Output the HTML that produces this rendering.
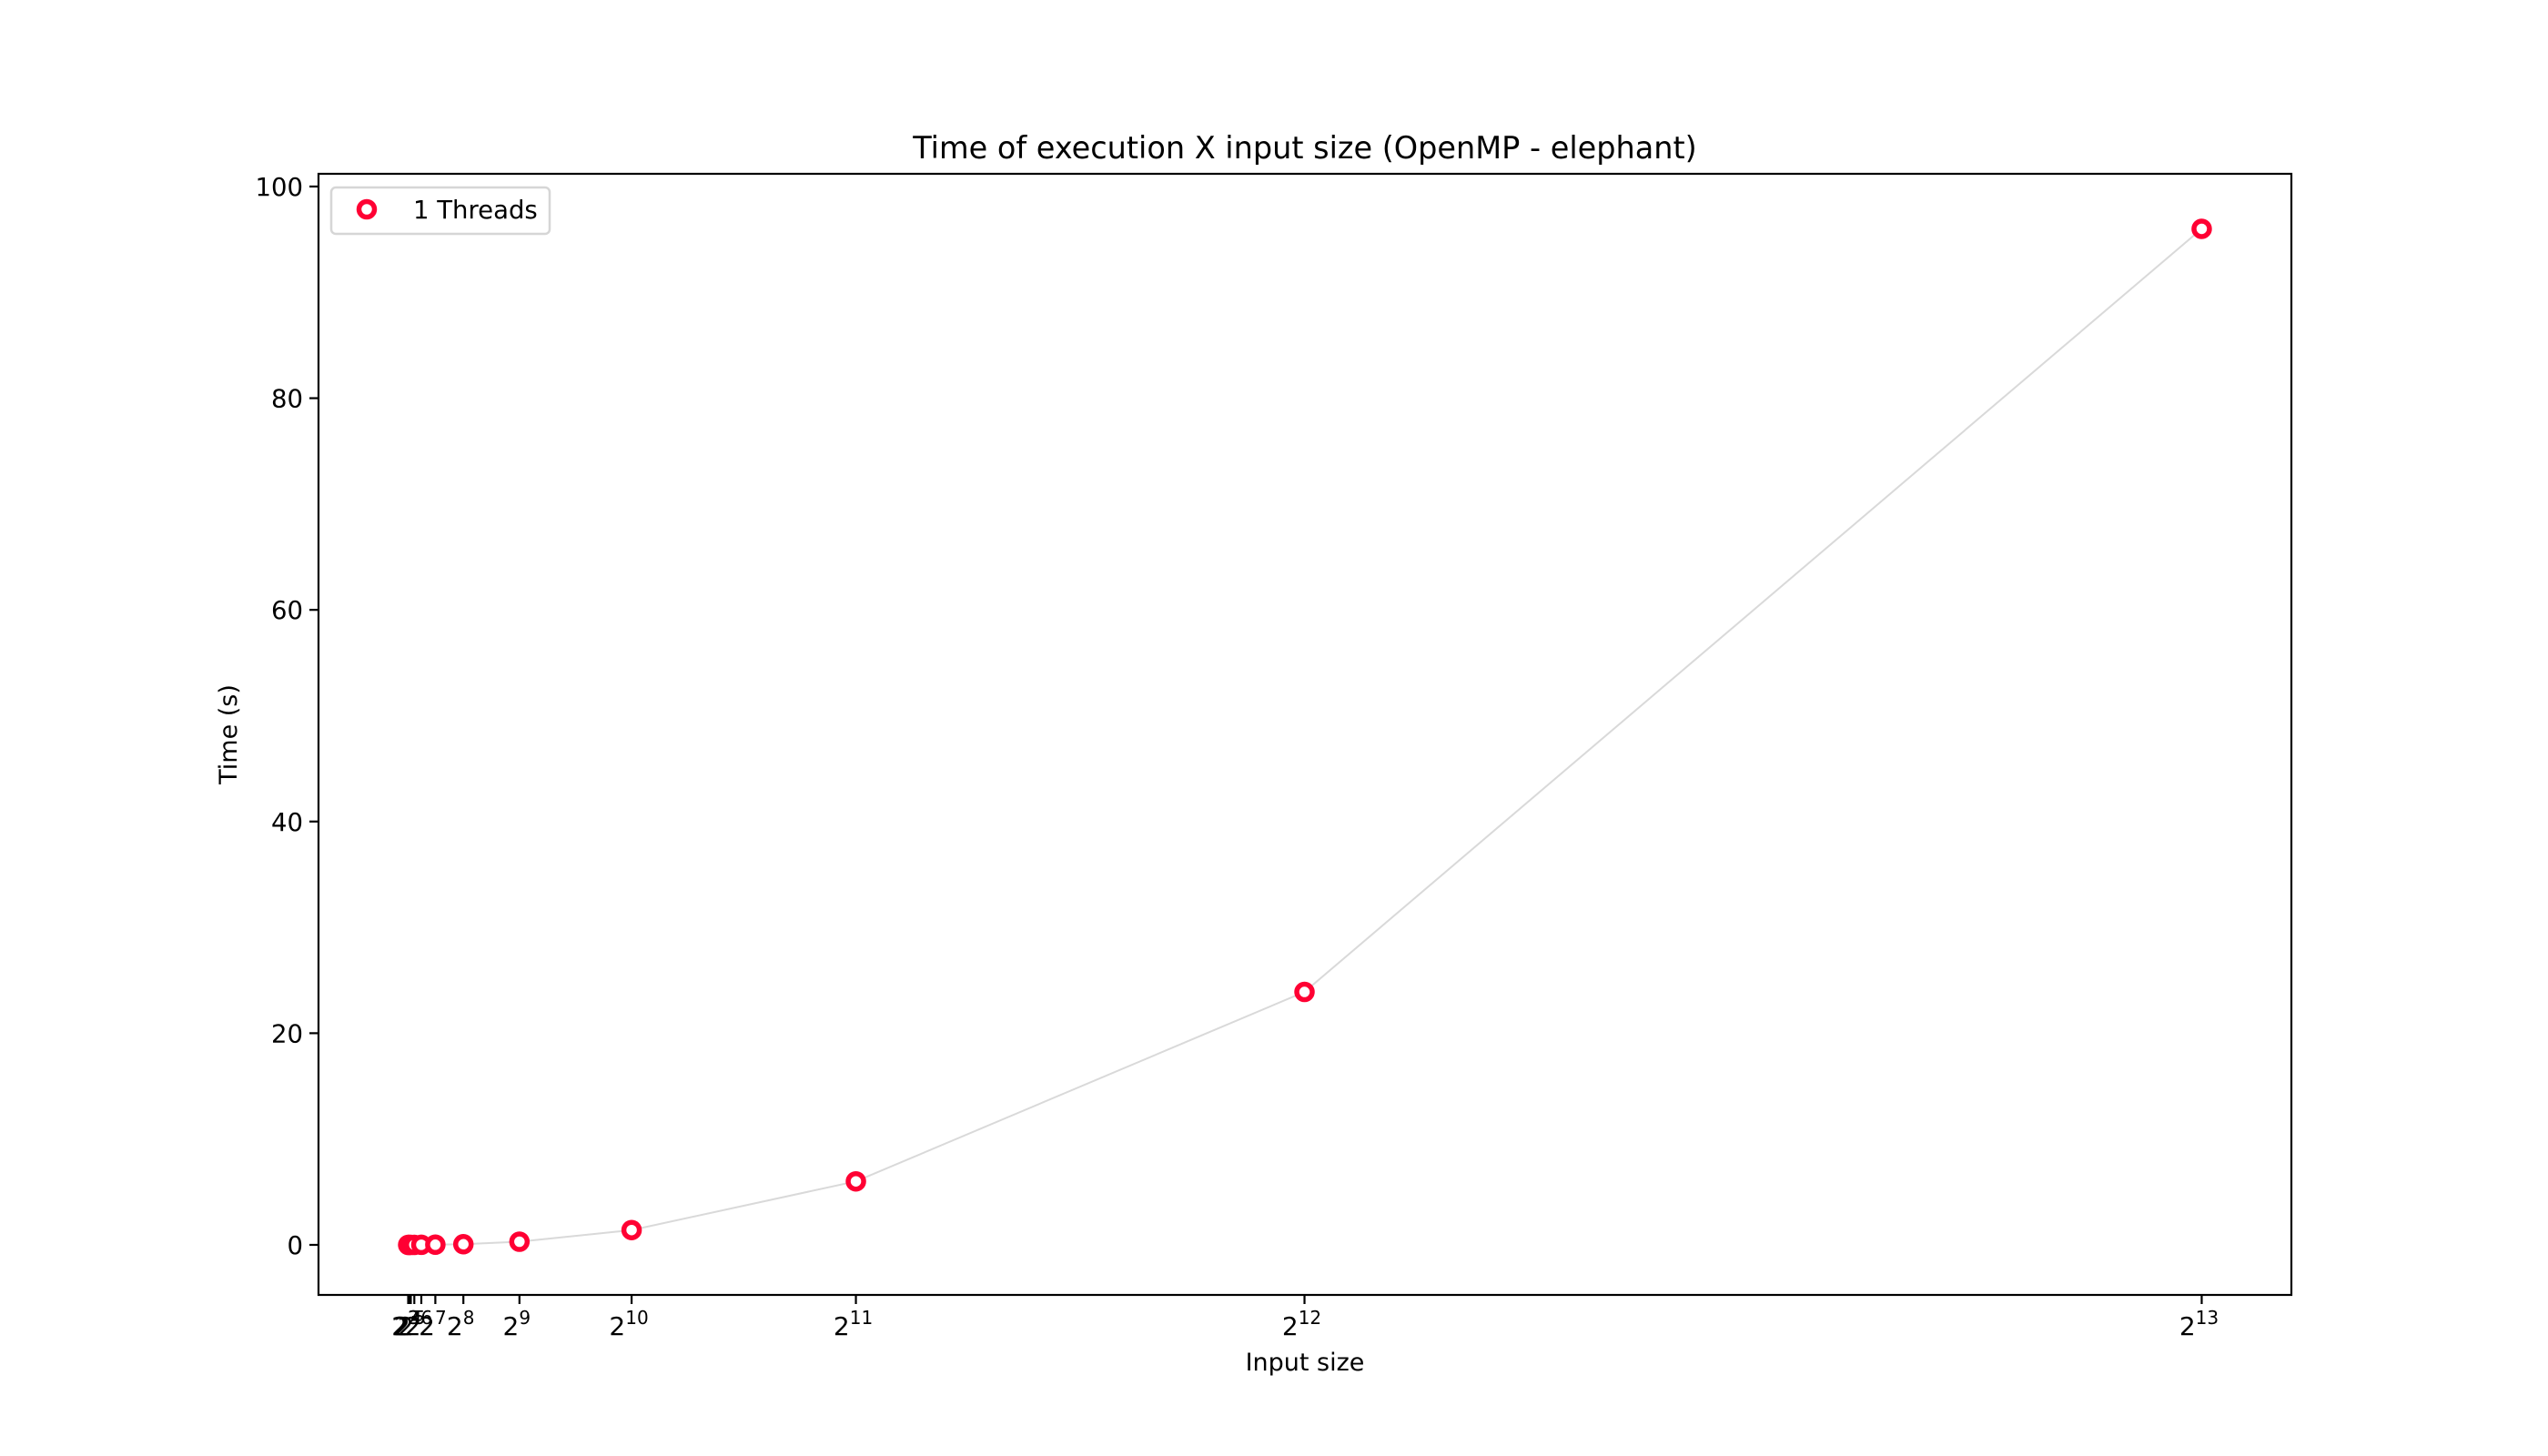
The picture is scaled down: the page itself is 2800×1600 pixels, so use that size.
<!DOCTYPE html>
<html><head><meta charset="utf-8"><style>
html,body{margin:0;padding:0;background:#fff;}
svg{display:block;font-family:"DejaVu Sans","Liberation Sans",sans-serif;}
</style></head><body>
<svg id="chart" width="2800" height="1600" viewBox="0 0 2800 1600">
<rect width="2800" height="1600" fill="#fff"/>
<text x="1434" y="174" font-size="33.5" text-anchor="middle">Time of execution X input size (OpenMP - elephant)</text>
<g id="plot"></g>
<text x="1434" y="1506" font-size="27" text-anchor="middle">Input size</text>
<text transform="translate(260,807) rotate(-90)" font-size="27" text-anchor="middle">Time (s)</text>
<g>
<rect x="364" y="206" width="240" height="51" rx="5" fill="#fff" stroke="#d6d6d6" stroke-width="2.5"/>
<circle cx="403" cy="230" r="8.5" fill="#fff" stroke="#ff0033" stroke-width="5.5"/>
<text x="454" y="240" font-size="27.5">1 Threads</text>
</g>
</svg>
<script>
const exponents=[2,3,4,5,6,7,8,9,10,11,12,13];
const sizes=[4,8,16,32,64,128,256,512,1024,2048,4096,8192];
const times=[0.0,0.0,0.0,0.0,0.01,0.02,0.06,0.3,1.4,6.0,23.9,96.0];
const yTicks=[0,20,40,60,80,100];

const L=350,R=2518,T=191,B=1423;
const xmin=-405.4,xmax=8601.4,ymin=-4.73,ymax=101.2;
const sx=v=>L+(v-xmin)/(xmax-xmin)*(R-L);
const sy=v=>B-(v-ymin)/(ymax-ymin)*(B-T);
const NS="http://www.w3.org/2000/svg";
const g=document.getElementById('plot');
function mk(tag,attrs,parent){const e=document.createElementNS(NS,tag);for(const k in attrs)e.setAttribute(k,attrs[k]);(parent||g).appendChild(e);return e;}

yTicks.forEach(v=>{
  const y=sy(v);
  const t=mk('line',{x1:L-10,x2:L,y1:y,y2:y,stroke:'#000','stroke-width':2.2});
  
  
  const l=mk('text',{x:L-17,y:y+10,'font-size':27.5,'text-anchor':'end'});
  l.textContent=v;
  
  
});
sizes.forEach((s,i)=>{
  const x=sx(s);
  const t=mk('line',{x1:x,x2:x,y1:B,y2:B+10,stroke:'#000','stroke-width':2.2});
  
  
  const l=mk('text',{x:x-3,y:B+44,'font-size':28,'text-anchor':'middle'});
  
  
  l.appendChild(document.createTextNode('2'));
  const sp=document.createElementNS(NS,'tspan');
  sp.setAttribute('dy','-12');sp.setAttribute('font-size','20');
  sp.textContent=exponents[i];
  l.appendChild(sp);
});
const pts=sizes.map((s,i)=>sx(s)+','+sy(times[i])).join(' ');
const pl=mk('polyline',{points:pts,fill:'none',stroke:'#d9d9d9','stroke-width':2});


sizes.forEach((s,i)=>{
  const c=mk('circle',{cx:sx(s),cy:sy(times[i]),r:8.5,fill:'#fff',stroke:'#ff0033','stroke-width':5.5});
  
  
});
const f=mk('rect',{x:L,y:T,width:R-L,height:B-T,fill:'none',stroke:'#000','stroke-width':2.2});


</script>
</body></html>
